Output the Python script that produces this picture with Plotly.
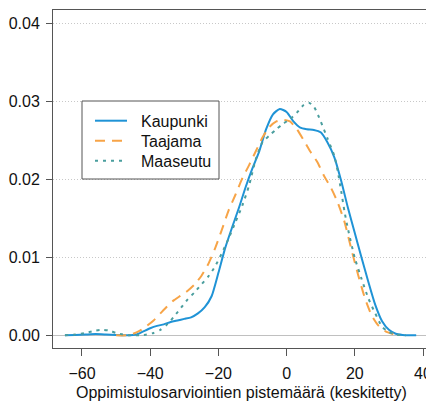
import plotly.graph_objects as go

# --- data ---
kaupunki_x = [-65, -62, -59, -56, -53, -50, -47, -44, -42, -40, -38, -36, -34, -32, -30, -28, -26, -24, -22, -20,
              -18, -16, -14, -12, -10, -8, -6, -4, -2, 0, 2, 4, 6, 8, 10, 12, 14, 16, 18, 20, 22, 24, 26, 28, 30,
              32, 34, 36, 38]
kaupunki_y = [0, 0.00005, 0.0001, 0.00015, 0.0001, 0.00003, 0, 0.0001, 0.0005, 0.0009, 0.0012, 0.0014, 0.0017,
              0.0019, 0.0021, 0.0023, 0.0028, 0.0036, 0.0050, 0.0080, 0.0112, 0.0138, 0.0163, 0.0190, 0.0214,
              0.0236, 0.0264, 0.0283, 0.0290, 0.0286, 0.0274, 0.0266, 0.0264, 0.0263, 0.0260, 0.0247, 0.0228,
              0.0198, 0.0163, 0.0131, 0.0099, 0.0068, 0.0039, 0.0018, 0.0007, 0.0002, 0.00005, 0, 0]

taajama_x = [-50, -47, -45, -43, -41, -39, -37, -35, -33, -31, -29, -27, -25, -23, -21, -19, -17, -15, -13, -11,
             -9, -7, -5, -3, -1, 1, 3, 5, 7, 9, 11, 13, 15, 17, 19, 21, 23, 25, 27, 29, 31, 33]
taajama_y = [0, 0, 0.0002, 0.0006, 0.0012, 0.0019, 0.0028, 0.0037, 0.0045, 0.0051, 0.0057, 0.0065, 0.0076,
             0.0091, 0.0111, 0.0135, 0.0160, 0.0180, 0.0201, 0.0218, 0.0236, 0.0254, 0.0267, 0.0274, 0.0276,
             0.0274, 0.0264, 0.0250, 0.0235, 0.0222, 0.0204, 0.0189, 0.0170, 0.0145, 0.0110, 0.0077, 0.0047,
             0.0025, 0.0012, 0.0005, 0.0002, 0]

maaseutu_x = [-65, -62, -59, -56, -54, -52, -50, -48, -46, -43, -41, -39, -37, -35, -33, -31, -29, -27, -25, -23,
              -21, -19, -17, -15, -13, -11, -9, -7, -5, -3, -1, 1, 3, 5, 6.5, 8, 10, 12, 14, 15, 16, 17, 18, 20,
              22, 24, 26, 28, 30, 32, 35]
maaseutu_y = [0, 0.0001, 0.0003, 0.0006, 0.0007, 0.0006, 0.0003, 0.0001, 0, 0, 0.0001, 0.0003, 0.0007, 0.0014,
              0.0024, 0.0035, 0.0046, 0.0055, 0.0065, 0.0075, 0.0088, 0.0105, 0.0124, 0.0145, 0.0166, 0.0192,
              0.0226, 0.0248, 0.0256, 0.0264, 0.0271, 0.0277, 0.0285, 0.0295, 0.0298, 0.0293, 0.0274, 0.0252,
              0.0230, 0.0210, 0.0185, 0.0158, 0.0136, 0.0099, 0.0072, 0.0047, 0.0028, 0.0011, 0.0004, 0.0001, 0]

series_names = ["Kaupunki", "Taajama", "Maaseutu"]
x_ticks = [-60, -40, -20, 0, 20, 40]
y_ticks = [0.00, 0.01, 0.02, 0.03, 0.04]
x_title = "Oppimistulosarviointien pistemäärä (keskitetty)"

FONT = "Arial, 'Liberation Sans', sans-serif"
FS = 16
AXC = "#555555"
COLORS = ["#1f93d6", "#f7a447", "#4a9e9e"]
DASHES = ["solid", "10px,7px", "3px,5px"]

fig = go.Figure()
for xs, ys, nm, c, d in zip([kaupunki_x, taajama_x, maaseutu_x], [kaupunki_y, taajama_y, maaseutu_y],
                            series_names, COLORS, DASHES):
    fig.add_trace(go.Scatter(x=xs, y=ys, name=nm, mode="lines", showlegend=False,
                             line=dict(color=c, width=2, dash=d, shape="spline", smoothing=0.6)))

# page body has an 8px margin; figure is sized to fit the 434x404 window
W, H = 426, 396
ML, MR, MT, MB = 45, 4, 2, 56
PW, PH = W - ML - MR, H - MT - MB


def px2paper(px, py):
    # reference page pixel -> paper coords
    return (px - 8 - ML) / PW, (H - MB - (py - 8)) / PH


shapes = []
x0, y0 = px2paper(82, 101)
x1, y1 = px2paper(219, 179)
shapes.append(dict(type="rect", xref="paper", yref="paper", x0=x0, y0=y1, x1=x1, y1=y0,
                   line=dict(color=AXC, width=1), fillcolor="white", layer="above"))
annotations = []
for i, (nm, c, d) in enumerate(zip(series_names, COLORS, DASHES)):
    ly = 120.7 + 20 * i
    a0, b0 = px2paper(95, ly)
    a1, _ = px2paper(127, ly)
    shapes.append(dict(type="line", xref="paper", yref="paper", x0=a0, x1=a1, y0=b0, y1=b0,
                       line=dict(color=c, width=2, dash=d), layer="above"))
    tx, ty = px2paper(139.0, ly + 0.5)
    annotations.append(dict(text=nm, xref="paper", yref="paper", x=tx, y=ty, xanchor="left",
                            yanchor="middle", showarrow=False, font=dict(size=FS, color="#111111")))

# x-axis title placed at a fixed position below the tick labels
ttx, tty = px2paper(241, 392)
annotations.append(dict(text=x_title, xref="paper", yref="paper", x=ttx, y=tty, xanchor="center",
                        yanchor="middle", showarrow=False, font=dict(size=FS, color="#111111")))

fig.update_layout(
    width=W, height=H,
    margin=dict(l=ML, r=MR, t=MT, b=MB),
    paper_bgcolor="white", plot_bgcolor="white",
    font=dict(family=FONT, size=FS, color="#111111"),
    showlegend=False,
    shapes=shapes, annotations=annotations,
)
fig.update_xaxes(range=[-68.5, 42.05], tickvals=x_ticks, ticks="outside", ticklen=7,
                 tickcolor=AXC, showline=True, linecolor=AXC, linewidth=1, mirror=True,
                 showgrid=False, zeroline=False, ticklabelstandoff=4,
                 tickfont=dict(size=FS))
fig.update_yaxes(range=[-0.00163, 0.04167], tickvals=y_ticks, tickformat=".2f", ticks="outside",
                 ticklen=6, tickcolor=AXC, showline=True, linecolor=AXC, linewidth=1, mirror=True,
                 showgrid=True, gridcolor="#c8c8c8", griddash="1px,2px", gridwidth=1,
                 zeroline=True, zerolinecolor="#c0c0c0", zerolinewidth=1, ticklabelstandoff=3,
                 tickfont=dict(size=FS))

fig.write_html("out.html")
